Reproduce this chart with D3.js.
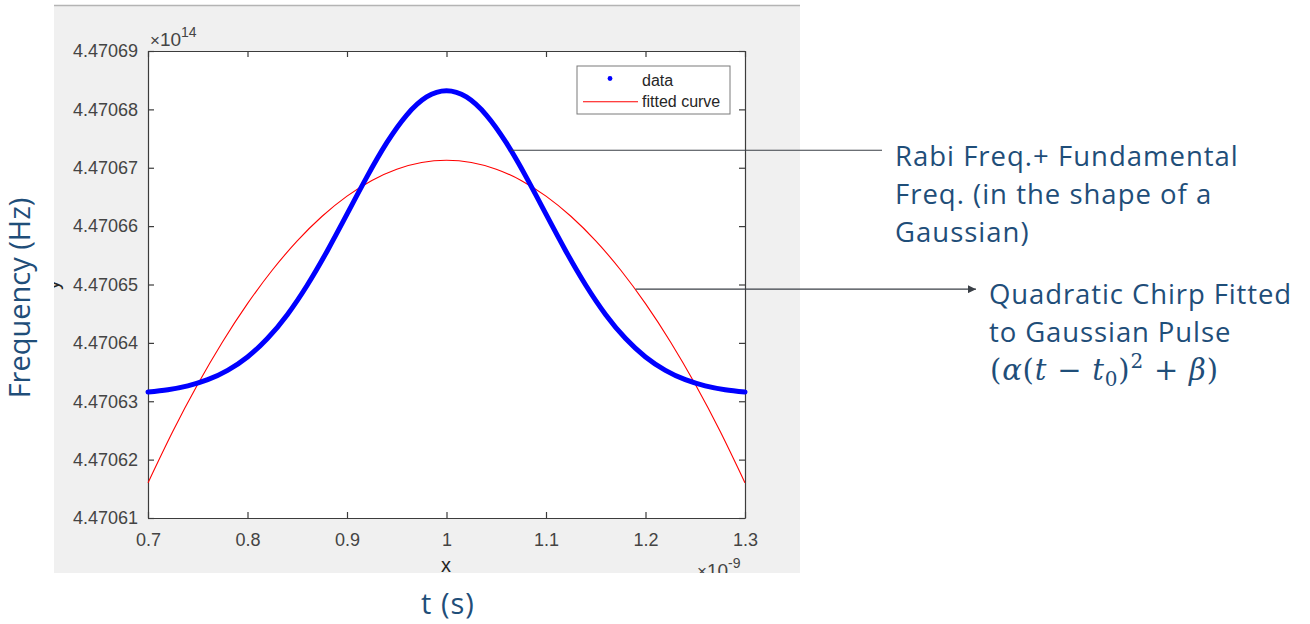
<!DOCTYPE html>
<html>
<head>
<meta charset="utf-8">
<script src="https://cdn.jsdelivr.net/npm/d3@7"></script>
<style>
  html, body { margin: 0; padding: 0; background: #ffffff; }
  svg { display: block; }
</style>
</head>
<body>
<svg id="chart" width="1310" height="624"></svg>
<script>
// Time axis of the pulse (ns) and the measured frequency (x 1e14 Hz)
const dataT = [0.70, 0.72, 0.74, 0.76, 0.78, 0.80, 0.82, 0.84, 0.86, 0.88, 0.90,
               0.92, 0.94, 0.96, 0.98, 1.00, 1.02, 1.04, 1.06, 1.08, 1.10,
               1.12, 1.14, 1.16, 1.18, 1.20, 1.22, 1.24, 1.26, 1.28, 1.30];
const dataF = [4.47063158, 4.47063198, 4.47063264, 4.47063369, 4.47063529, 4.47063759,
               4.47064074, 4.47064483, 4.47064987, 4.47065571, 4.47066205, 4.47066843,
               4.47067429, 4.47067903, 4.47068213, 4.47068320, 4.47068213, 4.47067903,
               4.47067429, 4.47066843, 4.47066205, 4.47065571, 4.47064987, 4.47064483,
               4.47064074, 4.47063759, 4.47063529, 4.47063369, 4.47063264, 4.47063198,
               4.47063158];

// Quadratic chirp fitted to the pulse
const fitT = [0.700, 0.725, 0.750, 0.775, 0.800, 0.825, 0.850, 0.875, 0.900, 0.925, 0.950,
              0.975, 1.000, 1.025, 1.050, 1.075, 1.100, 1.125, 1.150, 1.175, 1.200,
              1.225, 1.250, 1.275, 1.300];
const fitF = [4.47061602, 4.47062485, 4.47063291, 4.47064020, 4.47064672, 4.47065248,
              4.47065747, 4.47066169, 4.47066514, 4.47066783, 4.47066975, 4.47067090,
              4.47067128, 4.47067090, 4.47066975, 4.47066783, 4.47066514, 4.47066169,
              4.47065747, 4.47065248, 4.47064672, 4.47064020, 4.47063291, 4.47062485,
              4.47061602];

const xTicks = [0.7, 0.8, 0.9, 1.0, 1.1, 1.2, 1.3];
const yTicks = [4.47061, 4.47062, 4.47063, 4.47064, 4.47065, 4.47066, 4.47067, 4.47068, 4.47069];
const legendNames = ["data", "fitted curve"];

// Annotation anchors on the curves (t in ns, f in 1e14 Hz)
const gaussAnchor = { t: 1.065, f: 4.4706730 };
const chirpAnchor = { t: 1.190, f: 4.4706492 };
const gaussNote = ["Rabi Freq.+ Fundamental", "Freq. (in the shape of a", "Gaussian)"];
const chirpNote = ["Quadratic Chirp Fitted", "to Gaussian Pulse"];

const svg = d3.select("#chart");
const plot = { left: 148, right: 745, top: 51, bottom: 518 };
const noteColor = "#1f4e79";
const axisColor = "#3c3c3c";

const x = d3.scaleLinear().domain([0.7, 1.3]).range([plot.left, plot.right]);
const y = d3.scaleLinear().domain([4.47061, 4.47069]).range([plot.bottom, plot.top]);

// Figure window (grey panel)
const fig = svg.append("g");
fig.append("clipPath").attr("id", "figclip")
  .append("rect").attr("x", 54).attr("y", 5).attr("width", 746).attr("height", 568);
fig.append("rect").attr("x", 54).attr("y", 5).attr("width", 746).attr("height", 568)
  .attr("fill", "#f0f0f0");
fig.append("line").attr("x1", 54).attr("x2", 800).attr("y1", 5.5).attr("y2", 5.5)
  .attr("stroke", "#b4b4b4").attr("stroke-width", 1.5);

const inner = fig.append("g").attr("clip-path", "url(#figclip)");

// Axes background
inner.append("rect")
  .attr("x", plot.left).attr("y", plot.top)
  .attr("width", plot.right - plot.left).attr("height", plot.bottom - plot.top)
  .attr("fill", "#ffffff");

const tickFont = "'Liberation Sans', Arial, sans-serif";

function styleAxis(g) {
  g.select(".domain").attr("stroke", axisColor).attr("stroke-width", 1.2);
  g.selectAll(".tick line").attr("stroke", axisColor).attr("stroke-width", 1.2);
  g.selectAll(".tick text").attr("fill", "#444444")
    .style("font-family", tickFont).style("font-size", "18px");
}

inner.append("g").attr("transform", `translate(0,${plot.bottom})`)
  .call(d3.axisBottom(x).tickValues(xTicks).tickSizeInner(-6).tickSizeOuter(0)
    .tickPadding(15).tickFormat(d3.format("")))
  .call(styleAxis);
inner.append("g").attr("transform", `translate(0,${plot.top})`)
  .call(d3.axisTop(x).tickValues(xTicks).tickSizeInner(-6).tickSizeOuter(0).tickFormat(""))
  .call(styleAxis);
inner.append("g").attr("transform", `translate(${plot.left},0)`)
  .call(d3.axisLeft(y).tickValues(yTicks).tickSizeInner(-6).tickSizeOuter(0)
    .tickPadding(10).tickFormat(d3.format(".5f")))
  .call(styleAxis);
inner.append("g").attr("transform", `translate(${plot.right},0)`)
  .call(d3.axisRight(y).tickValues(yTicks).tickSizeInner(-6).tickSizeOuter(0).tickFormat(""))
  .call(styleAxis);

// Exponent labels
function exponent(xPos, yPos, power) {
  const t = inner.append("text").attr("x", xPos).attr("y", yPos)
    .attr("fill", "#444444").style("font-family", tickFont).style("font-size", "19px");
  t.append("tspan").text("\u00d7").style("font-size", "17px");
  t.append("tspan").text("10");
  t.append("tspan").text(power).attr("dy", -9).style("font-size", "14px");
}
exponent(150, 45.5, "14");
exponent(697, 577, "-9");

// Axis name labels
inner.append("text").attr("x", (plot.left + plot.right) / 2 - 0.5).attr("y", 572)
  .attr("text-anchor", "middle").attr("fill", "#262626")
  .style("font-family", tickFont).style("font-size", "20px").text("x");
inner.append("text").attr("transform", "translate(58.8,285) rotate(-90)")
  .attr("text-anchor", "middle").attr("fill", "#262626")
  .style("font-family", tickFont).style("font-size", "20px").text("y");

// Series
const fitLine = d3.line().x((d, i) => x(fitT[i])).y(d => y(d)).curve(d3.curveNatural);
inner.append("path").datum(fitF).attr("d", fitLine)
  .attr("fill", "none").attr("stroke", "#ff0000").attr("stroke-width", 1.1);

const dataLine = d3.line().x((d, i) => x(dataT[i])).y(d => y(d)).curve(d3.curveNatural);
inner.append("path").datum(dataF).attr("d", dataLine)
  .attr("fill", "none").attr("stroke", "#0000ff").attr("stroke-width", 5)
  .attr("stroke-linecap", "round").attr("stroke-linejoin", "round");

// Legend
const lg = inner.append("g");
lg.append("rect").attr("x", 577).attr("y", 66).attr("width", 153).attr("height", 48)
  .attr("fill", "#ffffff").attr("stroke", "#7a7a7a").attr("stroke-width", 1);
lg.append("circle").attr("cx", 610).attr("cy", 78.5).attr("r", 2.4).attr("fill", "#0000ff");
lg.append("line").attr("x1", 583).attr("x2", 638).attr("y1", 101.7).attr("y2", 101.7)
  .attr("stroke", "#ff0000").attr("stroke-width", 1.1);
lg.selectAll("text.leg").data(legendNames).join("text").attr("class", "leg")
  .attr("x", 642).attr("y", (d, i) => 85.5 + i * 21.8)
  .attr("fill", "#262626").style("font-family", tickFont).style("font-size", "16px")
  .text(d => d);

// Annotations
const noteFont = "'Open Sans', 'Noto Sans', sans-serif";
svg.append("line")
  .attr("x1", x(gaussAnchor.t)).attr("x2", 882)
  .attr("y1", y(gaussAnchor.f)).attr("y2", y(gaussAnchor.f))
  .attr("stroke", "#3a3f46").attr("stroke-width", 1.2);

const defs = svg.append("defs");
defs.append("marker").attr("id", "arrow").attr("viewBox", "0 0 10 10")
  .attr("refX", 10).attr("refY", 5).attr("markerWidth", 8).attr("markerHeight", 8)
  .attr("markerUnits", "userSpaceOnUse").attr("orient", "auto")
  .append("path").attr("d", "M0,0 L10,5 L0,10 Z").attr("fill", "#3a3f46");

svg.append("line")
  .attr("x1", x(chirpAnchor.t)).attr("x2", 976)
  .attr("y1", y(chirpAnchor.f)).attr("y2", y(chirpAnchor.f))
  .attr("stroke", "#3a3f46").attr("stroke-width", 1.2)
  .attr("marker-end", "url(#arrow)");

svg.selectAll("text.gnote").data(gaussNote).join("text").attr("class", "gnote")
  .attr("x", 895).attr("y", (d, i) => 165.5 + i * 38)
  .attr("fill", noteColor).style("font-family", noteFont).style("font-size", "27.5px")
  .style("letter-spacing", "1px")
  .text(d => d);

svg.selectAll("text.cnote").data(chirpNote).join("text").attr("class", "cnote")
  .attr("x", 989).attr("y", (d, i) => 303.5 + i * 38)
  .attr("fill", noteColor).style("font-family", noteFont).style("font-size", "27.5px")
  .style("letter-spacing", "0.9px")
  .text(d => d);

// Chirp formula: (alpha (t - t0)^2 + beta)
const mathFont = "'DejaVu Serif', 'Liberation Serif', serif";
const eq = svg.append("text").attr("x", 990).attr("y", 380)
  .attr("fill", noteColor).style("font-family", mathFont).style("font-size", "29px")
  .style("letter-spacing", "0.8px");
const parts = [
  { s: "(", it: false }, { s: "\u03b1", it: true }, { s: "(", it: false },
  { s: "t", it: true }, { s: " \u2212 ", it: false }, { s: "t", it: true },
  { s: "0", it: false, sub: true }, { s: ")", it: false }, { s: "2", it: false, sup: true },
  { s: " + ", it: false }, { s: "\u03b2", it: true }, { s: ")", it: false }
];
let shift = 0;
parts.forEach(p => {
  const ts = eq.append("tspan").text(p.s).style("font-style", p.it ? "italic" : "normal");
  const target = p.sub ? 6 : (p.sup ? -12 : 0);
  if (target !== shift) { ts.attr("dy", target - shift); shift = target; }
  if (p.sub || p.sup) ts.style("font-size", "20px");
});

// Outer axis titles
svg.append("text").attr("transform", "translate(30,298) rotate(-90)")
  .attr("text-anchor", "middle").attr("fill", noteColor)
  .style("font-family", noteFont).style("font-size", "29px").text("Frequency (Hz)");
svg.append("text").attr("x", 448).attr("y", 614)
  .attr("text-anchor", "middle").attr("fill", noteColor)
  .style("font-family", noteFont).style("font-size", "29px")
  .style("letter-spacing", "1px").text("t (s)");
</script>
</body>
</html>
